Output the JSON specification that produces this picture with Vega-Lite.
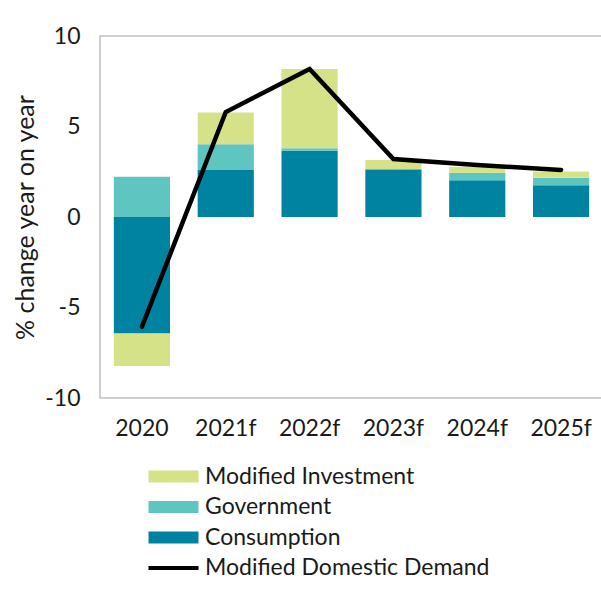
{
  "$schema": "https://vega.github.io/schema/vega-lite/v6.json",
  "autosize": "none",
  "padding": {"left": 100, "top": 36, "right": 0, "bottom": 192},
  "width": 503,
  "height": 362,
  "background": "white",
  "config": {
    "font": "Lato",
    "view": {"stroke": "#bfbfbf", "strokeWidth": 1.5},
    "axis": {"grid": false, "ticks": false, "domain": false, "labelFont": "Lato", "labelColor": "#1a1a1a", "titleFont": "Lato", "titleColor": "#1a1a1a", "titleFontWeight": "normal"}
  },
  "datasets": {
    "bars": [
      {"year": "2020", "component": "Consumption", "value": -6.43, "ord": 1},
      {"year": "2020", "component": "Government", "value": 2.23, "ord": 2},
      {"year": "2020", "component": "Modified Investment", "value": -1.8, "ord": 3},
      {"year": "2021f", "component": "Consumption", "value": 2.6, "ord": 1},
      {"year": "2021f", "component": "Government", "value": 1.42, "ord": 2},
      {"year": "2021f", "component": "Modified Investment", "value": 1.76, "ord": 3},
      {"year": "2022f", "component": "Consumption", "value": 3.66, "ord": 1},
      {"year": "2022f", "component": "Government", "value": 0.14, "ord": 2},
      {"year": "2022f", "component": "Modified Investment", "value": 4.38, "ord": 3},
      {"year": "2023f", "component": "Consumption", "value": 2.6, "ord": 1},
      {"year": "2023f", "component": "Government", "value": 0.05, "ord": 2},
      {"year": "2023f", "component": "Modified Investment", "value": 0.5, "ord": 3},
      {"year": "2024f", "component": "Consumption", "value": 2.03, "ord": 1},
      {"year": "2024f", "component": "Government", "value": 0.42, "ord": 2},
      {"year": "2024f", "component": "Modified Investment", "value": 0.33, "ord": 3},
      {"year": "2025f", "component": "Consumption", "value": 1.75, "ord": 1},
      {"year": "2025f", "component": "Government", "value": 0.42, "ord": 2},
      {"year": "2025f", "component": "Modified Investment", "value": 0.35, "ord": 3}
    ],
    "line": [
      {"year": "2020", "value": -6.06},
      {"year": "2021f", "value": 5.8},
      {"year": "2022f", "value": 8.18},
      {"year": "2023f", "value": 3.2},
      {"year": "2024f", "value": 2.87},
      {"year": "2025f", "value": 2.6}
    ]
  },
  "encoding": {
    "x": {
      "field": "year", "type": "nominal", "sort": null,
      "scale": {"paddingInner": 0.33, "paddingOuter": 0.165},
      "axis": {"title": null, "labelAngle": 0, "labelFontSize": 23, "labelPadding": 19}
    }
  },
  "layer": [
    {
      "data": {"name": "bars"},
      "mark": {"type": "bar"},
      "encoding": {
        "y": {
          "field": "value", "type": "quantitative", "stack": "zero",
          "scale": {"domain": [-10, 10], "nice": false},
          "axis": {"values": [-10, -5, 0, 5, 10], "labelExpr": "replace(datum.label, '\u2212', '-')", "title": "% change year on year", "titleFontSize": 25, "titlePadding": 6, "labelFontSize": 23, "labelPadding": 20}
        },
        "order": {"field": "ord", "type": "quantitative"},
        "color": {
          "field": "component", "type": "nominal",
          "scale": {
            "domain": ["Modified Investment", "Government", "Consumption", "Modified Domestic Demand"],
            "range": ["#d5e287", "#5fc5c0", "#0083a1", "#000000"]
          },
          "legend": {
            "title": null,
            "orient": "none",
            "legendX": 47,
            "legendY": 429,
            "direction": "vertical",
            "labelFontSize": 23,
            "labelLimit": 500,
            "labelColor": "#1a1a1a",
            "labelOffset": 35,
            "rowPadding": 6.5,
            "symbolSize": 400,
            "symbolStrokeWidth": 0,
            "symbolOpacity": 1,
            "symbolType": "M-1,-0.6H4V0.6H-1Z",
            "encode": {
              "symbols": {
                "update": {
                  "shape": {"signal": "datum.value === 'Modified Domestic Demand' ? 'M-1,-0.2H4V0.2H-1Z' : 'M-1,-0.6H4V0.6H-1Z'"}
                }
              }
            }
          }
        }
      }
    },
    {
      "mark": {"type": "rule", "color": "#bfbfbf", "strokeWidth": 1.5},
      "encoding": {"y": {"datum": 0}, "x": null}
    },
    {
      "data": {"name": "line"},
      "mark": {"type": "line", "strokeWidth": 4.5, "strokeCap": "round", "strokeJoin": "miter"},
      "encoding": {
        "y": {"field": "value", "type": "quantitative"},
        "color": {"datum": "Modified Domestic Demand"}
      }
    }
  ]
}
